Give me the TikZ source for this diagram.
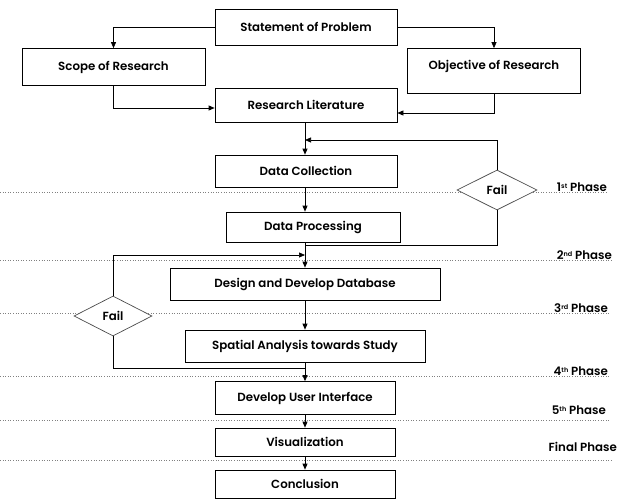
\documentclass[tikz,border=0pt]{standalone}
\usepackage{fontspec}
\newfontfamily\lab{Poppins SemiBold}
\newcommand\phsup[1]{\raisebox{3.5pt}{\fontsize{6.5}{7}\selectfont #1}}
\usetikzlibrary{arrows.meta,shapes.geometric,calc}
\begin{document}
\begin{tikzpicture}[x=1pt,y=-1pt,
  box/.style={draw,line width=0.7pt,fill=white,inner sep=0pt,font=\lab\fontsize{11.8}{13}\selectfont},
  dia/.style={draw=black!70,line width=0.7pt,fill=white,diamond,inner sep=0pt,minimum width=80pt,minimum height=40pt,font=\lab\fontsize{11.8}{13}\selectfont},
  arr/.style={line width=0.7pt,-{Triangle[length=6pt,width=5pt]}},
  ln/.style={line width=0.7pt},
  phase/.style={draw=black!50,line width=0.6pt,dotted},
  plab/.style={anchor=south east,inner sep=1pt,font=\lab\fontsize{11.8}{13}\selectfont}]
\useasboundingbox (0,0) rectangle (618,500);
% phase lines
\draw[phase] (0,192) -- (608,192);
\draw[phase] (0,260) -- (612,260);
\draw[phase] (0,313) -- (610,313);
\draw[phase] (0,376) -- (610,376);
\draw[phase] (0,420) -- (610,420);
\draw[phase] (0,460) -- (612,460);
\node[plab] (p1) at (608,193) {1\phsup{st} Phase};
\node[plab] (p2) at (613,261) {2\phsup{nd} Phase};
\node[plab] (p3) at (609,314) {3\phsup{rd} Phase};
\node[plab] (p4) at (609,377) {4\phsup{th} Phase};
\node[plab] (p5) at (607,416) {5\phsup{th} Phase};
\node[plab] (p6) at (618,453) {Final Phase};
% boxes
\node[box,minimum width=182pt,minimum height=36pt] (stmt) at (306,27) {Statement of Problem};
\node[box,minimum width=183pt,minimum height=37pt] (scope) at (113.5,67) {Scope of Research};
\node[box,minimum width=173pt,minimum height=45pt] (obj) at (494,71) {};
\node[inner sep=0pt,font=\lab\fontsize{11.8}{13}\selectfont] (objt) at (494,66) {Objective of Research};
\node[box,minimum width=182pt,minimum height=34pt] (rl) at (306,105) {Research Literature};
\node[box,minimum width=182pt,minimum height=32pt] (dc) at (306,171) {Data Collection};
\node[box,minimum width=174pt,minimum height=30pt] (dp) at (313,227) {Data Processing};
\node[box,minimum width=270pt,minimum height=32pt] (ddb) at (305,284) {Design and Develop Database};
\node[box,minimum width=240pt,minimum height=32pt] (sa) at (305,346) {Spatial Analysis towards Study};
\node[box,minimum width=180pt,minimum height=33pt] (ui) at (305,398) {Develop User Interface};
\node[box,minimum width=180pt,minimum height=28pt] (vis) at (305,442) {Visualization};
\node[box,minimum width=180pt,minimum height=28pt] (conc) at (305,484) {Conclusion};
\node[dia] (f1) at (497,190) {Fail};
\node[dia,minimum width=78pt] (f2) at (113,316) {Fail};
% junction coordinates
\coordinate (j1) at (305,140);
\coordinate (j2) at (305,245);
\coordinate (j3) at (305,255);
\coordinate (j4) at (305,368);
\coordinate (rlw) at ($(rl.west)+(0,3)$);
\coordinate (rle) at ($(rl.east)+(0,8)$);
% connectors
\draw[arr] (stmt.west) -| (scope.north);
\draw[arr] (stmt.east) -| (obj.north);
\draw[arr] (scope.south) |- (rlw);
\draw[arr] (obj.south) |- (rle);
\draw[arr] (rl.south -| j1) -- (dc.north -| j1);
\draw[arr] (f1.north) |- (j1);
\draw[arr] (dc.south -| j1) -- (dp.north -| j1);
\draw[ln] (f1.south) |- (j2);
\draw[arr] (dp.south -| j2) -- (ddb.north -| j2);
\draw[arr] (f2.north) |- (j3);
\draw[arr] (ddb.south -| j3) -- (sa.north -| j3);
\draw[ln] (f2.south) |- (j4);
\draw[arr] (sa.south -| j4) -- (ui.north -| j4);
\draw[arr] (ui.south -| j4) -- (vis.north -| j4);
\draw[arr] (vis.south -| j4) -- (conc.north -| j4);
\end{tikzpicture}
\end{document}
